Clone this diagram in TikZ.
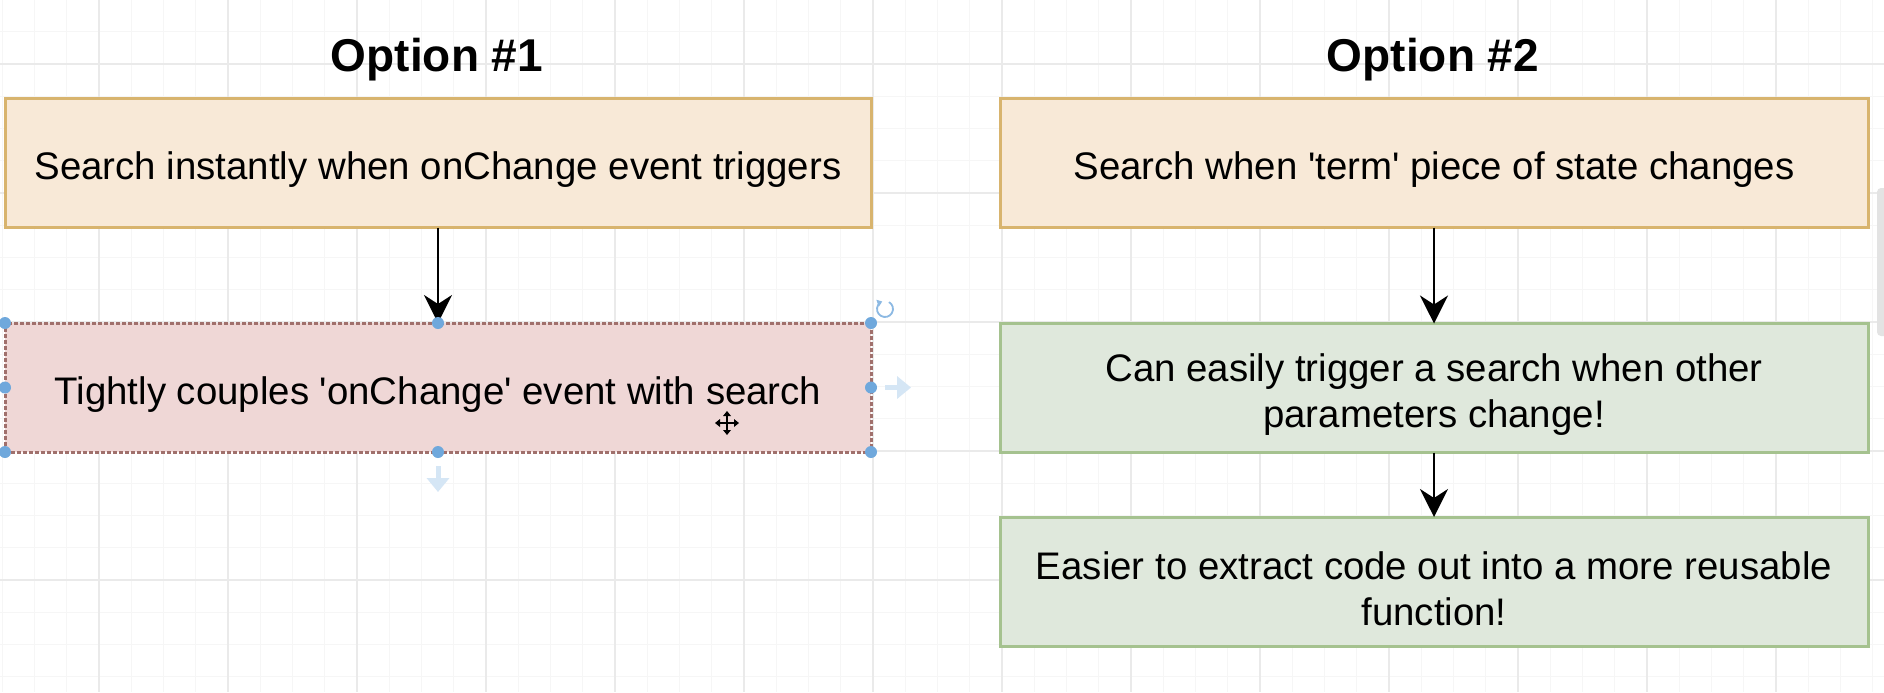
\documentclass[tikz,border=0pt]{standalone}
\usepackage{fontspec}
\setmainfont{Liberation Sans}
\usetikzlibrary{arrows.meta}
\definecolor{ofill}{HTML}{F8E9D7}
\definecolor{oline}{HTML}{D8B46E}
\definecolor{rfill}{HTML}{EFD7D6}
\definecolor{rline}{HTML}{A0706C}
\definecolor{gfill}{HTML}{DFE8DC}
\definecolor{gline}{HTML}{A5C28F}
\definecolor{gridminor}{HTML}{F6F6F6}
\definecolor{gridmajor}{HTML}{EAEAEA}
\definecolor{handle}{HTML}{6FA8DC}
\definecolor{faint}{HTML}{D5E6F5}
\tikzset{
  box/.style={rectangle, inner sep=0pt, outer sep=0pt, line width=1.5pt,
    minimum height=64.5pt},
  leftbox/.style={box, minimum width=433pt},
  rightbox/.style={box, minimum width=434pt},
  obox/.style={fill=ofill, draw=oline},
  rbox/.style={fill=rfill, draw=rline, dash pattern=on 2pt off 1pt},
  gbox/.style={fill=gfill, draw=gline},
  txt/.style={inner sep=0pt, align=center, text=black,
    font=\fontsize{19.2pt}{23pt}\selectfont},
  title/.style={font=\fontsize{23pt}{27pt}\selectfont\bfseries, text=black, inner sep=0pt},
  conn/.style={draw=black, line width=1.25pt, -{Stealth[length=14pt, width=14pt, inset=4.5pt]}},
  minorline/.style={draw=gridminor, line width=0.5pt},
  majorline/.style={draw=gridmajor, line width=0.6pt},
  hdl/.style={circle, fill=handle, inner sep=0pt, minimum size=6pt},
}
\begin{document}
\begin{tikzpicture}[x=0.5pt, y=-0.5pt]
\useasboundingbox (0,0) rectangle (1884,692);
\fill[white] (0,0) rectangle (1884,692);
% grid
\foreach \i in {0,...,58} { \draw[minorline] ({2.25+32.25*\i},0) -- ({2.25+32.25*\i},692); }
\foreach \i in {0,...,22} { \draw[minorline] (0,{-0.5+32.25*\i}) -- (1884,{-0.5+32.25*\i}); }
\foreach \i in {0,...,14} { \draw[majorline] ({99+129*\i},0) -- ({99+129*\i},692); }
\foreach \i in {0,...,4} { \draw[majorline] (0,{64+129*\i}) -- (1884,{64+129*\i}); }
% scrollbar
\fill[gray!22, rounded corners=2pt] (1877,188) rectangle (1888,336);

% titles
\node[title] (t1) at (437,60) {Option \#1};
\node[title] (t2) at (1433,60) {Option \#2};

% boxes
\node[leftbox, obox] (b1) at (438,163) {};
\node[leftbox, rbox] (b2) at (438,387.5) {};
\node[rightbox, obox] (b3) at (1434,163) {};
\node[rightbox, gbox] (b4) at (1434,388) {};
\node[rightbox, gbox] (b5) at (1434,581.5) {};

% texts
\node[txt] (b1t) at ([yshift=-3.5pt]b1.center) {Search instantly when onChange event triggers};
\node[txt] (b2t) at ([yshift=-3.5pt]b2.center) {Tightly couples \textquotesingle onChange\textquotesingle\ event with search};
\node[txt] (b3t) at ([yshift=-3.5pt]b3.center) {Search when \textquotesingle term\textquotesingle\ piece of state changes};
\node[txt] (b4t) at ([yshift=-3.5pt]b4.center) {Can easily trigger a search when other\\parameters change!};
\node[txt] (b5t) at ([yshift=-3.5pt]b5.center) {Easier to extract code out into a more reusable\\function!};

% connectors
\draw[conn] (b1.south) -- (b2.north);
\draw[conn] (b3.south) -- (b4.north);
\draw[conn] (b4.south) -- (b5.north);

% selection handles on b2
\foreach \a in {north west,north,north east,west,east,south west,south,south east}
  { \node[hdl] at (b2.\a) {}; }
% faint hover arrows
\coordinate (ra) at ([xshift=7pt]b2.east);
\coordinate (da) at ([yshift=-7pt]b2.south);
\draw[faint, line width=2.5pt, -{Triangle[length=7pt, width=11pt]}] (ra) -- ++(26,0);
\draw[faint, line width=2.5pt, -{Triangle[length=7pt, width=11pt]}] (da) -- ++(0,26);
% rotation icon
\coordinate (rot) at ([xshift=7pt, yshift=7pt]b2.north east);
\draw[handle!80, line width=0.9pt, -{Triangle[length=2.5pt, width=3.5pt]}] ([shift={(60:4pt)}]rot) arc[start angle=60, end angle=-250, radius=4pt];
% move cursor
\coordinate (cur) at (727,423);
\draw[black, line width=0.8pt] ([xshift=-5pt]cur) -- ([xshift=5pt]cur);
\draw[black, line width=0.8pt] ([yshift=-5pt]cur) -- ([yshift=5pt]cur);
\fill[black] ([yshift=6pt]cur) -- ++(-2pt,-2.5pt) -- ++(4pt,0) -- cycle;
\fill[black] ([yshift=-6pt]cur) -- ++(-2pt,2.5pt) -- ++(4pt,0) -- cycle;
\fill[black] ([xshift=6pt]cur) -- ++(-2.5pt,-2pt) -- ++(0,4pt) -- cycle;
\fill[black] ([xshift=-6pt]cur) -- ++(2.5pt,-2pt) -- ++(0,4pt) -- cycle;
\end{tikzpicture}
\end{document}
